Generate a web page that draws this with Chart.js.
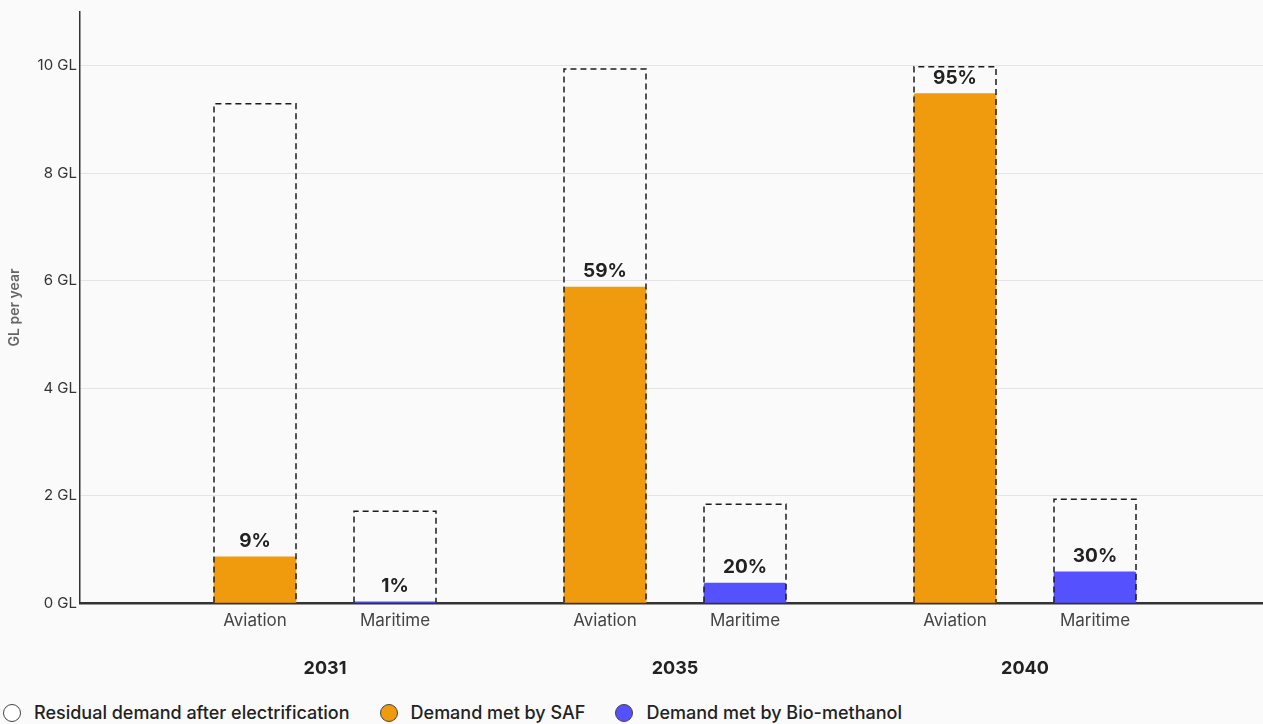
<!DOCTYPE html>
<html lang="en">
<head>
  <meta charset="UTF-8">
  <title>Residual demand and renewable fuel supply</title>
  <script src="https://cdn.jsdelivr.net/npm/chart.js"></script>
  <style>
    html, body {
      margin: 0;
      padding: 0;
      background-color: #fafafa;
      overflow: hidden;
      font-family: 'Inter', 'Noto Sans', sans-serif;
    }

    .chart-box {
      position: relative;
      width: 1270px;
      height: 700px;
    }

    .legend {
      position: absolute;
      left: 3px;
      top: 702px;
      display: flex;
      align-items: center;
      font-size: 18px;
      font-weight: 500;
      color: #222;
    }

    .legend-item {
      display: flex;
      align-items: center;
      margin-right: 30px;
    }

    .legend-dot {
      width: 16px;
      height: 16px;
      border-radius: 50%;
      border: 1px solid #444;
      margin-right: 13px;
    }
  </style>
</head>
<body>

  <div class="chart-box">
    <canvas id="fuelChart"></canvas>
  </div>
  <div class="legend" id="legend"></div>

  <script>
    const years = ['2031', '2035', '2040'];
    const sectors = ['Aviation', 'Maritime'];

    // GL per year, in order 2031 Aviation, 2031 Maritime, 2035 Aviation, ...
    const residualDemand = [9.29, 1.71, 9.94, 1.84, 9.98, 1.93];
    const safDemand = [0.86, null, 5.88, null, 9.48, null];
    const methanolDemand = [null, 0.02, null, 0.37, null, 0.58];

    const yTicks = [0, 2, 4, 6, 8, 10];

    // each year takes 5 slots on the axis: gap, sector, gap, sector, gap
    const slotCount = years.length * 5 + 2;
    const slotOf = k => 2 + 5 * Math.floor(k / 2) + 2 * (k % 2);

    const sectorLabels = new Array(slotCount).fill('');
    const yearLabels = new Array(slotCount).fill('');
    years.forEach((y, g) => {
      sectors.forEach((s, j) => { sectorLabels[slotOf(g * 2 + j)] = s; });
      yearLabels[3 + 5 * g] = y;
    });

    function toSlots(values) {
      const out = new Array(slotCount).fill(null);
      values.forEach((v, k) => { out[slotOf(k)] = v; });
      return out;
    }

    const residualSlots = toSlots(residualDemand);

    // dashed frame around each residual demand bar
    const dashedOutline = {
      id: 'dashedOutline',
      afterDatasetsDraw(chart) {
        const ctx = chart.ctx;
        const meta = chart.getDatasetMeta(0);
        ctx.save();
        ctx.strokeStyle = '#1c1c1c';
        ctx.lineWidth = 1.5;
        ctx.setLineDash([6, 4]);
        meta.data.forEach((bar, i) => {
          if (residualSlots[i] == null) return;
          const { x, y, base, width } = bar.getProps(['x', 'y', 'base', 'width'], true);
          const l = x - width / 2, r = x + width / 2;
          ctx.beginPath();
          ctx.moveTo(l, base);
          ctx.lineTo(l, y);
          ctx.lineTo(r, y);
          ctx.lineTo(r, base);
          ctx.stroke();
        });
        ctx.restore();
      }
    };

    // share of residual demand written above the supply bars
    const shareLabels = {
      id: 'shareLabels',
      afterDatasetsDraw(chart) {
        const ctx = chart.ctx;
        ctx.save();
        ctx.font = '700 19px Inter';
        ctx.fillStyle = '#222';
        ctx.textAlign = 'center';
        ctx.textBaseline = 'alphabetic';
        [1, 2].forEach(di => {
          const data = chart.data.datasets[di].data;
          chart.getDatasetMeta(di).data.forEach((bar, i) => {
            if (data[i] == null) return;
            const pct = Math.round(data[i] / residualSlots[i] * 100);
            ctx.fillText(pct + '%', bar.x, bar.y - 10);
          });
        });
        ctx.restore();
      }
    };

    const ctx = document.getElementById('fuelChart').getContext('2d');

    const fuelChart = new Chart(ctx, {
      type: 'bar',
      data: {
        labels: sectorLabels,
        datasets: [
          {
            label: 'Residual demand after electrification',
            data: residualSlots,
            backgroundColor: 'rgba(0,0,0,0)',
            borderWidth: 0,
            legendColor: '#ffffff'
          },
          {
            label: 'Demand met by SAF',
            data: toSlots(safDemand),
            backgroundColor: '#f09b0d',
            borderRadius: 2,
            legendColor: '#f09b0d'
          },
          {
            label: 'Demand met by Bio-methanol',
            data: toSlots(methanolDemand),
            backgroundColor: '#5551fe',
            borderRadius: 2,
            legendColor: '#5551fe'
          }
        ]
      },
      options: {
        responsive: true,
        maintainAspectRatio: false,
        animation: false,
        grouped: false,
        barThickness: 82,
        layout: { padding: { top: 6, left: 0, right: 0, bottom: 3 } },
        plugins: {
          legend: { display: false },
          tooltip: { enabled: false }
        },
        scales: {
          x: {
            type: 'category',
            offset: true,
            weight: 0,
            grid: { display: false, drawTicks: false },
            border: { display: true, color: '#333', width: 2.5 },
            ticks: {
              autoSkip: false,
              maxRotation: 0,
              padding: 8,
              color: '#444',
              font: { family: 'Inter', size: 17 }
            }
          },
          x2: {
            type: 'category',
            position: 'bottom',
            labels: yearLabels,
            offset: true,
            weight: 1,
            grid: { display: false, drawTicks: false },
            border: { display: false },
            ticks: {
              autoSkip: false,
              maxRotation: 0,
              padding: 18,
              color: '#222',
              font: { family: 'Inter', size: 18, weight: '700' }
            }
          },
          y: {
            min: 0,
            max: 11,
            afterFit: scale => { scale.width = 80; },
            grid: { color: '#e4e4e4', lineWidth: 1, drawTicks: false },
            border: { display: true, color: '#333', width: 1.5 },
            afterBuildTicks: scale => {
              scale.ticks = yTicks.map(v => ({ value: v }));
            },
            ticks: {
              padding: 3,
              color: '#333',
              font: { family: 'Inter', size: 15 },
              callback: v => v + ' GL'
            },
            title: {
              display: true,
              text: 'GL per year',
              color: '#666',
              padding: { top: 6, bottom: 0 },
              font: { family: 'Inter', size: 14, weight: '600' }
            }
          }
        }
      },
      plugins: [dashedOutline, shareLabels]
    });

    // legend row under the chart
    const legend = document.getElementById('legend');
    fuelChart.data.datasets.forEach(ds => {
      const item = document.createElement('div');
      item.className = 'legend-item';
      const dot = document.createElement('span');
      dot.className = 'legend-dot';
      dot.style.backgroundColor = ds.legendColor;
      const text = document.createElement('span');
      text.textContent = ds.label;
      item.appendChild(dot);
      item.appendChild(text);
      legend.appendChild(item);
    });
  </script>

</body>
</html>
